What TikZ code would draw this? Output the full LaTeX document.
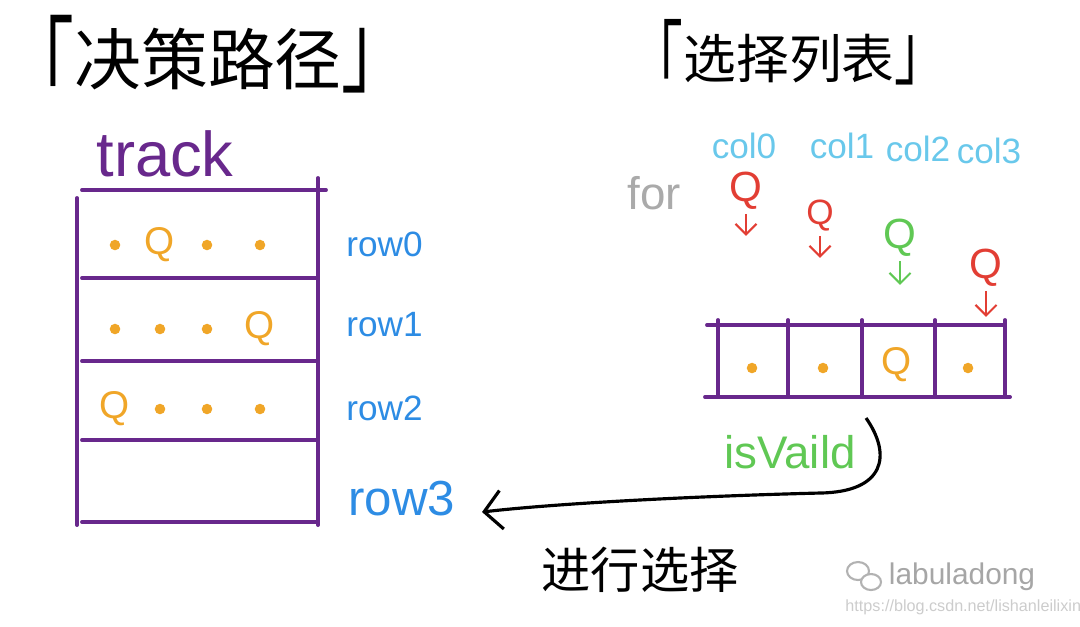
\documentclass[tikz,border=0pt]{standalone}
\usepackage{fontspec}
\setmainfont{Liberation Sans}
\newfontfamily\cjk{Noto Sans CJK SC}
\usetikzlibrary{arrows.meta, positioning}
\definecolor{trackpurple}{RGB}{104,40,140}
\definecolor{queenorange}{RGB}{240,166,40}
\definecolor{rowblue}{RGB}{45,140,228}
\definecolor{colblue}{RGB}{105,200,235}
\definecolor{pickred}{RGB}{226,62,52}
\definecolor{validgreen}{RGB}{96,200,84}
\definecolor{forgray}{RGB}{170,170,170}
% tall corner brackets
\newcommand{\openbr}[1]{\raisebox{-0.36em}{\scalebox{1}[#1]{「}}}
\newcommand{\closebr}[1]{\scalebox{1}[#1]{」}}

\begin{document}
\begin{tikzpicture}[x=0.01cm, y=-0.01cm,
    grid line/.style={trackpurple, line width=1.1pt, line cap=round},
    queen/.style={text=queenorange, font=\fontsize{11}{11}\selectfont, inner sep=0pt},
    dot/.style={circle, fill=queenorange, inner sep=0pt, minimum size=3pt},
    rowlabel/.style={text=rowblue, anchor=west, font=\fontsize{10}{10}\selectfont},
    collabel/.style={text=colblue, font=\fontsize{10}{10}\selectfont},
    pick/.style={font=\fontsize{12}{12}\selectfont, inner sep=1pt},
    down/.style={-{Straight Barb[length=3pt,width=6pt]}, line width=0.6pt},
    title/.style={font=\cjk\fontsize{19}{22}\selectfont}]
    \useasboundingbox (0,0) rectangle (1080,626);

    % titles
    \node[title] (decide) at (208,62) {\openbr{1.65}决策路径\closebr{1.5}};
    \node[title, font=\cjk\fontsize{15}{20}\selectfont] (choose) at (789,58) {\openbr{1.75}选择列表\closebr{1.45}};

    % track table
    \node[text=trackpurple, font=\fontsize{18}{18}\selectfont] (track) at (165,154) {track};
    \draw[grid line] (77,198) -- (77,525);
    \draw[grid line] (318,178) -- (318,525);
    \draw[grid line] (82,190) -- (326,190);
    \foreach \y in {278,361,440,522}
        \draw[grid line] (82,\y) -- (318,\y);

    \foreach \r/\y/\q in {0/245/1, 1/329/3, 2/409/0}
        \foreach \c/\x in {0/115,1/160,2/207,3/260} {
            \ifnum\c=\q \node[queen] (t\r\c) at (\x,\y) {Q};
            \else \node[dot] (t\r\c) at (\x,\y) {};
            \fi
        }

    \foreach \r/\y in {0/244,1/325,2/408}
        \node[rowlabel] (row\r) at (334,\y) {row\r};
    \node[rowlabel, font=\fontsize{14}{14}\selectfont] (row3) at (336,499) {row3};

    % choice list
    \node[text=forgray, font=\fontsize{13}{13}\selectfont] (for) at (654,193) {for};
    \foreach \c/\x/\y in {0/744/146,1/842/146,2/918/149,3/989/151}
        \node[collabel] (col\c) at (\x,\y) {col\c};

    \node[pick, text=pickred] (q0) at (746,191) {Q};
    \node[pick, text=pickred, font=\fontsize{10}{10}\selectfont] (q1) at (820,216) {Q};
    \node[pick, text=validgreen] (q2) at (900,238) {Q};
    \node[pick, text=pickred] (q3) at (986,268) {Q};
    \draw[down, pickred] (q0.south) -- ++(0,22);
    \draw[down, pickred] (q1.south) -- ++(0,22);
    \draw[down, validgreen] (q2.south) -- ++(0,24);
    \draw[down, pickred] (q3.south) -- ++(0,26);

    \draw[grid line] (707,325) -- (1005,325);
    \draw[grid line] (705,397) -- (1010,397);
    \foreach \x in {718,788,862,935,1005}
        \draw[grid line] (\x,320) -- (\x,397);
    \foreach \c/\x in {0/752,1/823,3/968}
        \node[dot] (a\c) at (\x,368) {};
    \node[queen] (a2) at (897,365) {Q};

    % isVaild check, then place it
    \node[text=validgreen, font=\fontsize{13}{13}\selectfont] (valid) at (790,452) {isVaild};
    \coordinate (check) at (866,418);
    \coordinate (place) at (482,512);
    \draw[line width=0.9pt, -{Straight Barb[length=5pt,width=11pt]}] (check)
        .. controls (892,455) and (885,492) .. (820,493)
        .. controls (700,496) and (560,503) .. (place);
    \node[font=\cjk\fontsize{14}{14}\selectfont] (doit) at (640,570) {进行选择};

    % watermark
    \draw[gray!60, line width=0.6pt] (858,571) ellipse [x radius=11, y radius=9];
    \draw[gray!60, line width=0.6pt, fill=white] (871,582) ellipse [x radius=10, y radius=8];
    \node[text=gray!70, font=\fontsize{8.5}{8.5}\selectfont] (brand) at (962,577) {labuladong};
    \node[text=gray!40, anchor=west, font=\fontsize{4.6}{4.6}\selectfont] (url) at (833,607) {https://blog.csdn.net/lishanleilixin};
\end{tikzpicture}
\end{document}
